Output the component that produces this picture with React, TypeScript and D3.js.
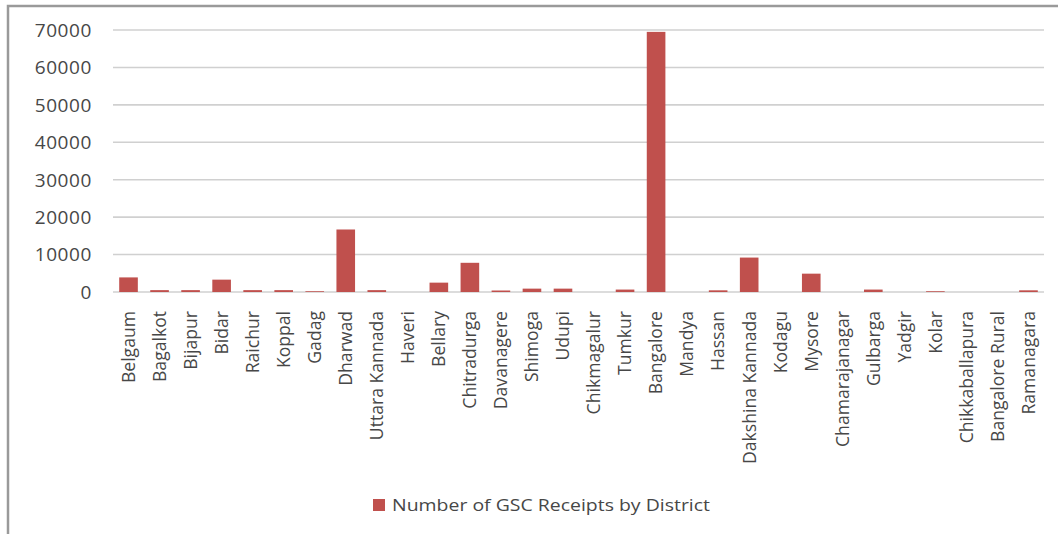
import React from "react";
import * as d3 from "d3";

const districts = [
  "Belgaum", "Bagalkot", "Bijapur", "Bidar", "Raichur", "Koppal", "Gadag", "Dharwad",
  "Uttara Kannada", "Haveri", "Bellary", "Chitradurga", "Davanagere", "Shimoga", "Udupi",
  "Chikmagalur", "Tumkur", "Bangalore", "Mandya", "Hassan", "Dakshina Kannada", "Kodagu",
  "Mysore", "Chamarajanagar", "Gulbarga", "Yadgir", "Kolar", "Chikkaballapura",
  "Bangalore Rural", "Ramanagara",
];
const receipts = [
  3900, 500, 500, 3300, 500, 500, 200, 16700,
  500, 0, 2500, 7800, 400, 900, 900,
  0, 650, 69500, 0, 450, 9200, 0,
  4900, 0, 650, 0, 200, 0,
  0, 450,
];
const yTicks = [0, 10000, 20000, 30000, 40000, 50000, 60000, 70000];
const seriesName = "Number of GSC Receipts by District";

const W = 1058;
const H = 534;
const plotLeft = 113;
const plotRight = 1044;
const plotTop = 30;
const plotBottom = 292;
const font = "'Open Sans', 'DejaVu Sans', sans-serif";
const textColor = "#474747";

export default function App() {
  const x = d3.scaleBand<string>().domain(districts).range([plotLeft, plotRight]).paddingInner(0.4).paddingOuter(0.2);
  const y = d3.scaleLinear().domain([0, 70000]).range([plotBottom, plotTop]);
  return (
    <svg width={W} height={H} style={{ position: "absolute", left: 0, top: 0, background: "#fff" }}>
      <rect x={8} y={6} width={1100} height={600} fill="#fff" stroke="#9a9a9a" strokeWidth={2.5} />
      {yTicks.map((t) => (
        <g key={t}>
          <line x1={plotLeft} x2={plotRight} y1={y(t)} y2={y(t)} stroke="#d0d0d0" strokeWidth={1.6} />
          <text x={92} y={y(t)} dy="0.36em" textAnchor="end" fontFamily={font} fontSize={19} letterSpacing={0.6} fill={textColor}>
            {t}
          </text>
        </g>
      ))}
      {districts.map((d, i) => (
        <rect
          key={d}
          x={x(d)}
          width={x.bandwidth()}
          y={y(receipts[i])}
          height={plotBottom - y(receipts[i])}
          fill="#c0504d"
        />
      ))}
      {districts.map((d) => {
        const cx = (x(d) as number) + x.bandwidth() / 2;
        return (
          <text
            key={d}
            transform={`translate(${cx},${311}) rotate(-90)`}
            dy="0.36em"
            textAnchor="end"
            fontFamily={font}
            fontSize={17.6}
            fill={textColor}
          >
            {d}
          </text>
        );
      })}
      <rect x={373} y={499} width={12} height={12} fill="#c0504d" />
      <text
        x={392}
        y={505}
        dy="0.36em"
        fontFamily={font}
        fontSize={17}
        textLength={318}
        lengthAdjust="spacingAndGlyphs"
        fill={textColor}
      >
        {seriesName}
      </text>
    </svg>
  );
}
